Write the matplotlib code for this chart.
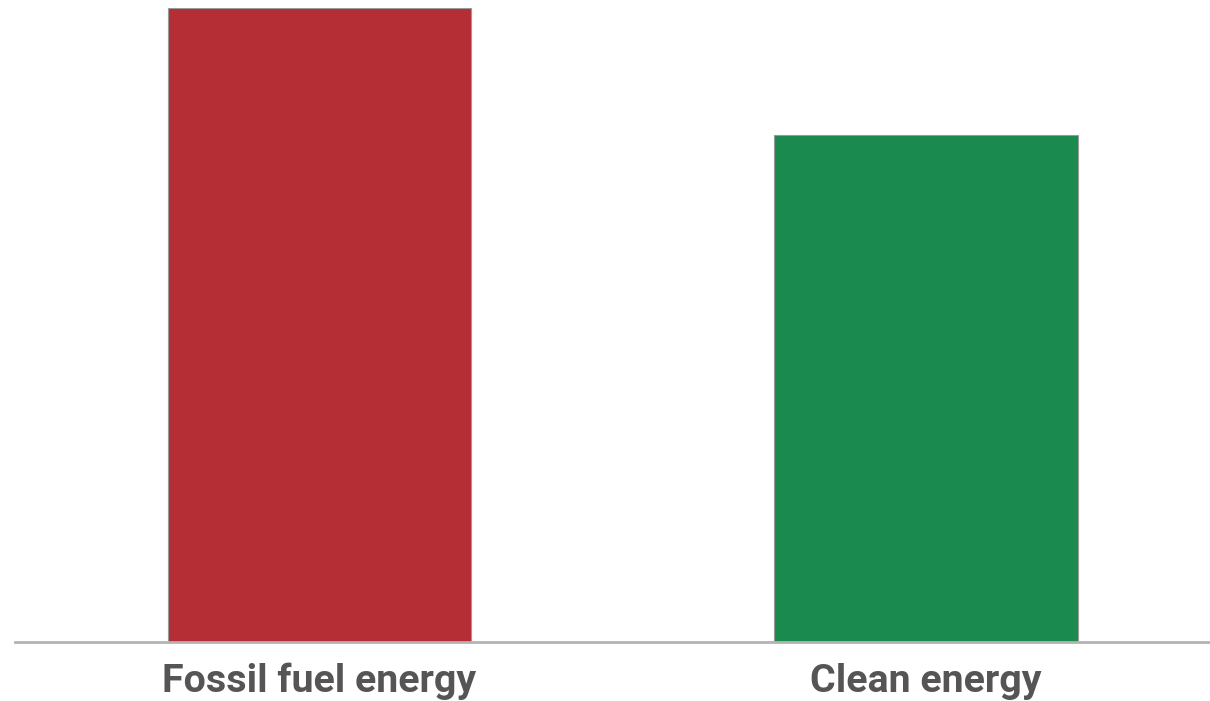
import matplotlib.pyplot as plt

categories = ["Fossil fuel energy", "Clean energy"]
values = [100, 80]
colors = ["#b52d35", "#1a8a4f"]

plt.rcParams['font.family'] = ['Roboto', 'DejaVu Sans']

fig = plt.figure(figsize=(12.10, 7.01), dpi=100)
ax = fig.add_axes([15 / 1210, 59 / 701, 1195 / 1210, (642 - 8) / 701])

x = range(len(categories))
ax.bar(x, values, width=0.5, color=colors, edgecolor="#9a9a9a", linewidth=0.8, zorder=2)

ax.set_xlim(-0.502, 1.468)
ax.set_ylim(0, 100)
ax.set_xticks(list(x))
ax.set_xticklabels(categories, fontsize=28.4, fontweight="bold", color="#555555")
ax.tick_params(axis="x", length=0, pad=15)
ax.set_yticks([])
for side in ["top", "left", "right"]:
    ax.spines[side].set_visible(False)
ax.spines["bottom"].set_color("#b3b3b3")
ax.spines["bottom"].set_linewidth(2)
ax.spines["bottom"].set_zorder(3)

fig.savefig("out.png", dpi=100, facecolor="white")
